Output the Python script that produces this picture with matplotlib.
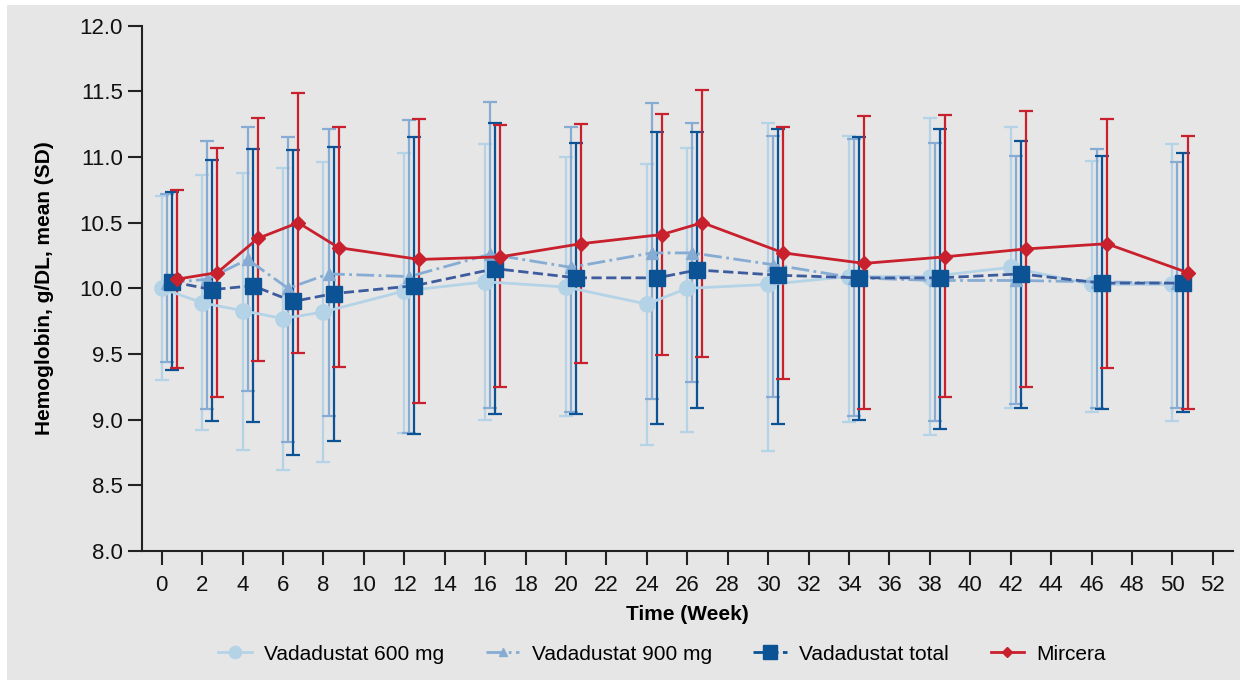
import numpy as np
import matplotlib.pyplot as plt
from matplotlib.patches import Rectangle

plt.rcParams['font.family'] = ['Liberation Sans Narrow', 'Liberation Sans', 'DejaVu Sans']

weeks = [0, 2, 4, 6, 8, 12, 16, 20, 24, 26, 30, 34, 38, 42, 46, 50]

# mean values
v600_mean = [10.00, 9.89, 9.83, 9.77, 9.82, 9.98, 10.05, 10.01, 9.88, 10.00, 10.03, 10.09, 10.09, 10.16, 10.03, 10.03]
v900_mean = [10.04, 10.07, 10.22, 10.00, 10.11, 10.09, 10.26, 10.16, 10.27, 10.27, 10.18, 10.08, 10.06, 10.06, 10.05, 10.04]
vtot_mean = [10.05, 9.99, 10.02, 9.90, 9.96, 10.02, 10.15, 10.08, 10.08, 10.14, 10.10, 10.08, 10.08, 10.11, 10.04, 10.04]
mirc_mean = [10.07, 10.12, 10.38, 10.50, 10.31, 10.22, 10.24, 10.34, 10.41, 10.50, 10.27, 10.19, 10.24, 10.30, 10.34, 10.12]

# upper and lower ends of the SD bars
v600_hi = [10.70, 10.86, 10.88, 10.92, 10.96, 11.03, 11.10, 11.00, 10.95, 11.07, 11.26, 11.16, 11.30, 11.23, 10.97, 11.10]
v600_lo = [9.30, 8.92, 8.77, 8.62, 8.68, 8.90, 9.00, 9.03, 8.81, 8.91, 8.76, 8.98, 8.88, 9.09, 9.06, 8.99]
v900_hi = [10.72, 11.12, 11.23, 11.15, 11.21, 11.28, 11.42, 11.23, 11.41, 11.26, 11.16, 11.14, 11.11, 11.01, 11.06, 10.96]
v900_lo = [9.44, 9.08, 9.22, 8.83, 9.03, 8.90, 9.09, 9.06, 9.16, 9.29, 9.17, 9.03, 8.99, 9.12, 9.09, 9.09]
vtot_hi = [10.73, 10.98, 11.06, 11.05, 11.08, 11.15, 11.26, 11.11, 11.19, 11.19, 11.21, 11.15, 11.21, 11.12, 11.01, 11.03]
vtot_lo = [9.38, 8.99, 8.98, 8.73, 8.84, 8.89, 9.04, 9.04, 8.97, 9.09, 8.97, 9.00, 8.93, 9.09, 9.08, 9.06]
mirc_hi = [10.75, 11.07, 11.30, 11.49, 11.23, 11.29, 11.24, 11.25, 11.33, 11.51, 11.23, 11.31, 11.32, 11.35, 11.29, 11.16]
mirc_lo = [9.39, 9.17, 9.45, 9.51, 9.40, 9.13, 9.25, 9.43, 9.49, 9.48, 9.31, 9.08, 9.17, 9.25, 9.39, 9.08]

series = [
    ("Vadadustat 600 mg", v600_mean, v600_lo, v600_hi, 0.0, "#b5d3e7", "#b5d3e7", "-", "o", 11),
    ("Vadadustat 900 mg", v900_mean, v900_lo, v900_hi, 0.25, "#86acd3", "#86acd3", "-.", "^", 8),
    ("Vadadustat total", vtot_mean, vtot_lo, vtot_hi, 0.5, "#0b5394", "#3d5c9e", "--", "s", 12),
    ("Mircera", mirc_mean, mirc_lo, mirc_hi, 0.75, "#c8202c", "#c8202c", "-", "D", 7),
]

fig = plt.figure(figsize=(12.47, 6.85), dpi=100, facecolor="white")
fig.patches.append(Rectangle((7 / 1247, 5 / 685), 1233 / 1247, 675 / 685,
                             transform=fig.transFigure, facecolor="#e6e6e6",
                             edgecolor="none", zorder=-10))
ax = fig.add_axes([0.1135, 0.1956, 0.8753, 0.7669])
ax.set_facecolor("none")

handles = []
for i, (name, mean, lo, hi, off, col, lcol, ls, mk, ms) in enumerate(series):
    x = np.array(weeks) + off
    m = np.array(mean)
    yerr = [m - np.array(lo), np.array(hi) - m]
    ax.errorbar(x, m, yerr=yerr, fmt="none", ecolor=col, elinewidth=1.6,
                capsize=5, capthick=1.6, zorder=2 + i)
    ax.plot(x, m, color=lcol, ls=ls, lw=2, zorder=6 + i)
    ax.plot(x, m, ls="none", marker=mk, ms=ms, color=col, mec=col, zorder=6 + i)
    h, = ax.plot([], [], color=col, ls=ls, lw=2, marker=mk, ms=ms * 0.8, label=name)
    handles.append(h)

ax.set_xlim(-1, 53)
ax.set_ylim(8, 12)
ax.set_xticks(range(0, 53, 2))
ax.set_yticks(np.arange(8, 12.01, 0.5))
ax.set_yticklabels([f"{v:.1f}" for v in np.arange(8, 12.01, 0.5)])
for s in ["top", "right"]:
    ax.spines[s].set_visible(False)
for s in ["left", "bottom"]:
    ax.spines[s].set_linewidth(1.5)
    ax.spines[s].set_color("#222222")
ax.tick_params(axis="both", direction="out", length=10, width=1.5,
               color="#222222", labelsize=16, labelcolor="#111111")
ax.tick_params(axis="x", pad=7)
ax.set_xlabel("Time (Week)", fontsize=15, fontweight="bold", labelpad=7)
ax.set_ylabel("Hemoglobin, g/DL, mean (SD)", fontsize=15, fontweight="bold", labelpad=18)

fig.legend(handles=handles, loc="center", bbox_to_anchor=(0.531, 0.045), ncol=4,
           frameon=False, fontsize=15, handlelength=1.6, columnspacing=2.0,
           handletextpad=0.6)

fig.savefig("out.png", dpi=100, facecolor="white")
